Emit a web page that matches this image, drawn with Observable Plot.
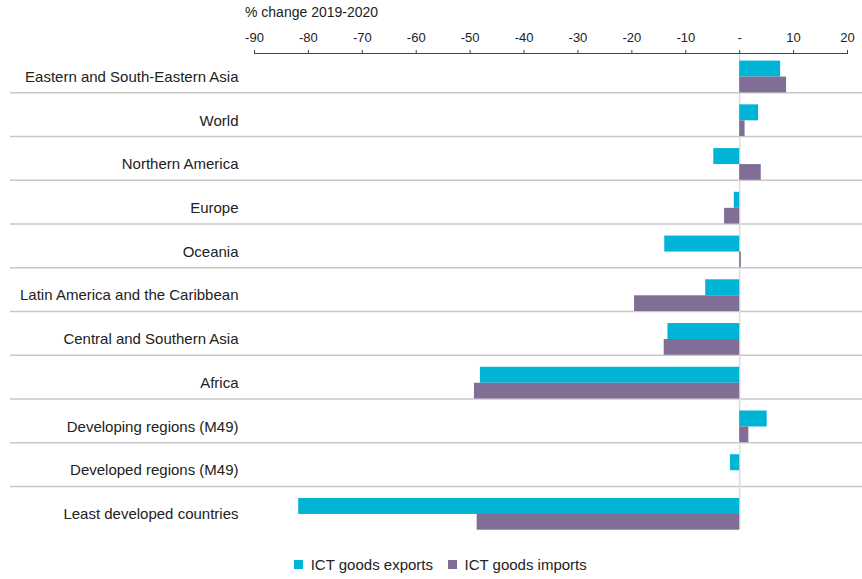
<!DOCTYPE html>
<html>
<head>
<meta charset="utf-8">
<script src="https://cdn.jsdelivr.net/npm/d3@7"></script>
<script src="https://cdn.jsdelivr.net/npm/@observablehq/plot@0.6"></script>
<style>
  body { margin: 0; background: #fff; font-family: "Liberation Sans", Arial, sans-serif; }
  #title { position: absolute; left: 245px; top: 4px; font-size: 14px; color: #222; }
  #legend { display: flex; justify-content: center; padding-left: 34px; margin-top: 0px; }
</style>
</head>
<body>
<div id="title">% change 2019-2020</div>
<div id="chart"></div>
<div id="legend"></div>
<script>
const regions = [
  "Eastern and South-Eastern Asia",
  "World",
  "Northern America",
  "Europe",
  "Oceania",
  "Latin America and the Caribbean",
  "Central and Southern Asia",
  "Africa",
  "Developing regions (M49)",
  "Developed regions (M49)",
  "Least developed countries"
];
const exportsPct = [7.6, 3.5, -4.8, -1.0, -13.9, -6.3, -13.3, -48.1, 5.1, -1.7, -81.8];
const importsPct = [8.7, 1.0, 4.0, -2.8, 0.3, -19.5, -14.0, -49.2, 1.7, 0.0, -48.7];
const xTicks = [-90, -80, -70, -60, -50, -40, -30, -20, -10, 0, 10, 20];
const seriesNames = ["ICT goods exports", "ICT goods imports"];
const seriesColors = ["#00b4d6", "#806e96"];

const exportRows = regions.map((r, i) => ({region: r, value: exportsPct[i]}));
const importRows = regions.map((r, i) => ({region: r, value: importsPct[i]}));

const H = 548, mt = 48.6, mb = 18.3, axisShift = 4.4;
const band = (H - mt - mb) / regions.length;
const font = '"Liberation Sans", Arial, sans-serif';

const chart = Plot.plot({
  width: 862,
  height: H,
  marginTop: mt,
  marginBottom: mb,
  marginLeft: 254,
  marginRight: 15,
  style: {fontFamily: font, color: "#222", background: "#fff"},
  x: {domain: [-90, 20], ticks: xTicks},
  y: {domain: regions, padding: 0, round: false},
  marks: [
    Plot.ruleY(regions.slice(0, -1), {y: d => d, dy: band / 2, stroke: "#c8c8c8", strokeWidth: 1.5, insetLeft: -244, insetRight: -15}),
    Plot.ruleX([0], {stroke: "#dcdcdc", strokeWidth: 1.5, insetTop: axisShift}),
    Plot.barX(exportRows, {y: "region", x: "value", fill: seriesColors[0], insetTop: 12, insetBottom: band - 28}),
    Plot.barX(importRows, {y: "region", x: "value", fill: seriesColors[1], insetTop: 28, insetBottom: 0}),
    Plot.axisX({anchor: "top", ticks: xTicks, tickSize: 4, tickPadding: 8, fontSize: 13, stroke: "#444", dy: axisShift,
      tickFormat: d => d === 0 ? "-" : String(d), label: null}),
    Plot.ruleY([regions[0]], {dy: -band / 2 + axisShift, stroke: "#444", strokeWidth: 1}),
    Plot.axisY({anchor: "left", tickSize: 0, tickPadding: 16, fontSize: 15, dy: 6, label: null})
  ]
});
document.getElementById("chart").appendChild(chart);

const legend = Plot.legend({
  color: {domain: seriesNames, range: seriesColors},
  swatchSize: 9,
  style: {fontFamily: font, fontSize: "15px", color: "#222"}
});
document.getElementById("legend").appendChild(legend);
</script>
</body>
</html>
